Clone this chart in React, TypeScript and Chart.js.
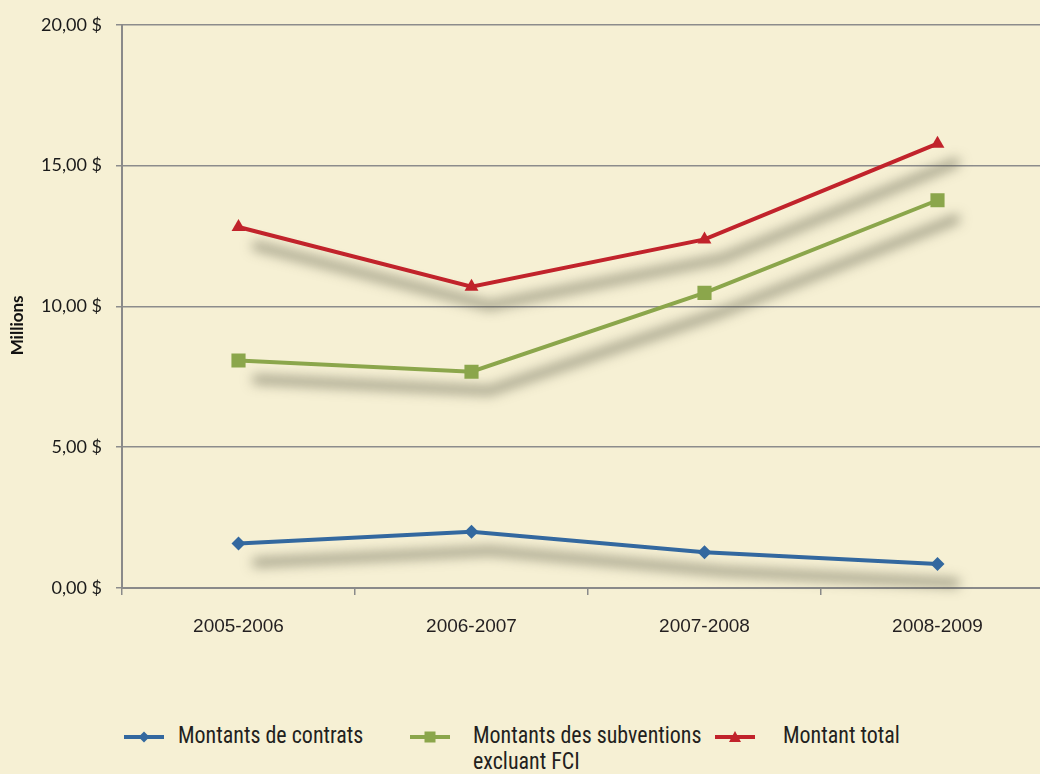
import React, { useEffect, useRef } from "react";
import { Chart, registerables } from "chart.js";
Chart.register(...registerables);

const categories = ["2005-2006", "2006-2007", "2007-2008", "2008-2009"];
const contrats = [1.58, 2.0, 1.27, 0.85];
const subventions = [8.08, 7.68, 10.48, 13.77];
const total = [12.82, 10.7, 12.38, 15.78];
const seriesLabels = ["Montants de contrats", "Montants des subventions excluant FCI", "Montant total"];
const legendLines = [["Montants de contrats"], ["Montants des subventions", "excluant FCI"], ["Montant total"]];
const seriesColors = ["#33689f", "#8ba64b", "#c1232b"];
const seriesMarkers = ["rectRot", "rect", "triangle"];
const markerRadius = [7, 10, 8];
const yTickValues = [0, 5, 10, 15, 20];
const axisTitle = "Millions";

const BG = "#f6f0d4";

const shadowPlugin = {
  id: "lineShadow",
  beforeDatasetsDraw(chart: any) {
    const ctx = chart.ctx;
    const off = 10000;
    chart.data.datasets.forEach((_ds: any, i: number) => {
      const meta = chart.getDatasetMeta(i);
      const pts = meta.data;
      ctx.save();
      ctx.beginPath();
      pts.forEach((p: any, j: number) => {
        if (j === 0) ctx.moveTo(p.x - off, p.y);
        else ctx.lineTo(p.x - off, p.y);
      });
      ctx.lineWidth = 9;
      ctx.lineJoin = "round";
      ctx.lineCap = "round";
      ctx.strokeStyle = "#000";
      ctx.shadowColor = "rgba(80,80,60,0.5)";
      ctx.shadowBlur = 12;
      ctx.shadowOffsetX = off + 18;
      ctx.shadowOffsetY = 19;
      ctx.stroke();
      ctx.restore();
    });
  },
};

const titlePlugin = {
  id: "yTitle",
  afterDraw(chart: any) {
    const { ctx, chartArea } = chart;
    ctx.save();
    ctx.translate(18, (chartArea.top + chartArea.bottom) / 2 + 19);
    ctx.rotate(-Math.PI / 2);
    ctx.font = "bold 17px Lato, 'Open Sans', sans-serif";
    ctx.fillStyle = "#111";
    ctx.textAlign = "center";
    ctx.textBaseline = "middle";
    ctx.fillText(axisTitle, 0, 0);
    ctx.restore();
  },
};

function LegendSymbol({ color, marker }: { color: string; marker: string }) {
  let shape: any = null;
  if (marker === "rectRot") shape = <polygon points="20,1.5 25.5,7 20,12.5 14.5,7" fill={color} />;
  else if (marker === "rect") shape = <rect x={14.5} y={1.5} width={11} height={11} fill={color} />;
  else shape = <polygon points="20,1 26,12 14,12" fill={color} />;
  return (
    <svg width={40} height={14} style={{ display: "block", flex: "none" }}>
      <line x1={0} y1={7} x2={40} y2={7} stroke={color} strokeWidth={4} />
      {shape}
    </svg>
  );
}

export default function App() {
  const ref = useRef<HTMLCanvasElement | null>(null);
  useEffect(() => {
    if (!ref.current) return;
    const series = [contrats, subventions, total];
    const chart = new Chart(ref.current, {
      type: "line",
      data: {
        labels: categories,
        datasets: series.map((d, i) => ({
          label: seriesLabels[i],
          data: d,
          borderColor: seriesColors[i],
          backgroundColor: seriesColors[i],
          pointBackgroundColor: seriesColors[i],
          pointBorderColor: seriesColors[i],
          pointStyle: seriesMarkers[i] as any,
          pointRadius: markerRadius[i],
          pointBorderWidth: 0,
          borderWidth: 4,
          tension: 0,
        })),
      },
      options: {
        animation: false,
        responsive: false,
        layout: { autoPadding: false, padding: { left: 0, right: 10, top: 21, bottom: 0 } },
        plugins: { legend: { display: false }, tooltip: { enabled: false } },
        scales: {
          x: {
            offset: true,
            grid: {
              display: true,
              drawOnChartArea: false,
              drawTicks: true,
              tickLength: 7,
              color: "#8a8a8a",
              lineWidth: 1.5,
              offset: true,
            },
            border: { display: true, color: "#8a8a8a", width: 2 },
            ticks: {
              color: "#231f20",
              padding: 20,
              font: { family: "'Liberation Sans', Arial, sans-serif", size: 19 },
            },
            afterFit: (s: any) => {
              s.height = 62;
            },
          },
          y: {
            min: 0,
            max: 20,
            afterBuildTicks: (s: any) => {
              s.ticks = yTickValues.map((v) => ({ value: v }));
            },
            grid: {
              color: "#8c8c8c",
              lineWidth: 1.5,
              drawTicks: true,
              tickLength: 6,
            },
            border: { display: true, color: "#8a8a8a", width: 2 },
            ticks: {
              color: "#1a1a1a",
              padding: 14,
              font: { family: "Lato, 'Open Sans', sans-serif", size: 18 },
              callback: (v: any) => Number(v).toFixed(2).replace(".", ",") + " $",
            },
            afterFit: (s: any) => {
              s.width = 122;
            },
          },
        },
      },
      plugins: [shadowPlugin, titlePlugin],
    });
    return () => chart.destroy();
  }, []);

  const gaps = [14, 23, 28];
  const itemWidths = [286, 305, 260];
  return (
    <div
      style={{
        position: "fixed",
        left: 0,
        top: 0,
        width: 1040,
        height: 774,
        overflow: "hidden",
        background: BG,
      }}
    >
      <canvas ref={ref} width={1064} height={650} style={{ display: "block" }} />
      <div
        style={{
          position: "absolute",
          left: 124,
          top: 723,
          display: "flex",
          fontFamily: "'Liberation Sans Narrow', 'Roboto Condensed', Roboto, sans-serif",
          fontSize: 23,
          lineHeight: "26px",
          color: "#231f20",
        }}
      >
        {legendLines.map((lines, i) => (
          <div key={i} style={{ display: "flex", alignItems: "flex-start", width: itemWidths[i], flex: "none" }}>
            <div style={{ marginTop: 7 }}>
              <LegendSymbol color={seriesColors[i]} marker={seriesMarkers[i]} />
            </div>
            <div
              style={{
                marginLeft: gaps[i],
                whiteSpace: "nowrap",
                transform: "scaleX(0.955)",
                transformOrigin: "left top",
              }}
            >
              {lines.map((t) => (
                <div key={t}>{t}</div>
              ))}
            </div>
          </div>
        ))}
      </div>
    </div>
  );
}
